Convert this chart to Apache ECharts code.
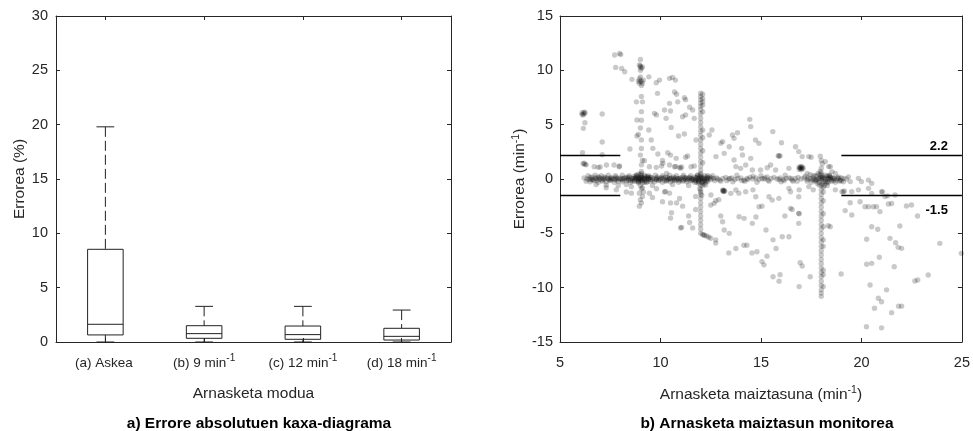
<!DOCTYPE html>
<html>
<head>
<meta charset="utf-8">
<script src="https://cdn.jsdelivr.net/npm/echarts@6/dist/echarts.min.js"></script>
<style>html,body{margin:0;padding:0;background:#fff}#c{width:973px;height:431px}</style>
</head>
<body>
<div id="c"></div>
<script>
// ---------- Data: box plot (a) ----------
var categories = ['(a) Askea', '(b) 9 min', '(c) 12 min', '(d) 18 min'];
var catSup = [' ', '-1', '-1', '-1'];
var lowWhisker = [0, 0, 0, 0];
var q1 = [0.65, 0.34, 0.25, 0.18];
var median = [1.63, 0.77, 0.68, 0.52];
var q3 = [8.53, 1.5, 1.47, 1.26];
var highWhisker = [19.8, 3.28, 3.28, 2.94];

// ---------- Data: scatter (b) ----------
var limitUpper = 2.2;
var limitLower = -1.5;
var bandRow1 = [[6.2,0.1],[6.35,0.0],[6.5,0.15],[6.65,-0.05],[6.8,0.05],[6.95,0.15],[7.1,-0.1],[7.25,0.1],[7.4,0.0],[7.55,0.15],[7.7,-0.05],[7.85,0.05],[8.0,0.1],[8.15,-0.1],[8.3,0.05],[8.45,0.15],[8.6,0.0],[8.75,0.1],[8.9,-0.05],[9.05,0.1],[9.2,0.0],[9.35,0.15],[9.5,-0.05],[9.65,0.05],[9.8,0.1],[9.95,-0.1],[10.1,0.05],[10.25,0.15],[10.4,0.0],[10.55,0.1],[10.7,-0.05],[10.85,0.05],[11.0,0.1],[11.15,-0.1],[11.3,0.05],[11.45,0.15],[11.6,0.0],[11.75,0.1],[11.9,-0.05],[12.05,0.1],[12.2,0.0],[12.35,0.1],[12.5,-0.05],[12.65,0.05],[12.8,0.1],[12.95,-0.1],[13.1,0.05],[13.25,0.15],[13.4,0.0],[13.55,0.1],[13.7,-0.05],[13.85,0.05],[14.0,0.1],[14.15,-0.1],[14.3,0.05],[14.45,0.15],[14.6,0.0],[14.75,0.1],[14.9,-0.05],[15.05,0.05],[15.2,0.1],[15.35,-0.1],[15.5,0.05],[15.65,0.15],[15.8,0.0],[15.95,0.1],[16.1,-0.05],[16.25,0.05],[16.4,0.1],[16.55,-0.1],[16.7,0.05],[16.85,0.15],[17.0,0.0],[17.15,0.1],[17.3,-0.05],[17.45,0.05],[17.6,0.1],[17.75,-0.1],[17.9,0.05],[18.05,0.15],[18.2,0.0],[18.35,0.1],[18.5,-0.05],[18.65,0.05],[18.8,0.1],[18.95,-0.1],[19.1,0.05],[19.25,0.0]];
var bandRow2 = [[6.3,-0.2],[6.5,-0.25],[6.7,-0.15],[6.9,-0.3],[7.1,-0.2],[7.3,-0.25],[7.5,-0.15],[7.7,-0.3],[7.9,-0.2],[8.1,-0.25],[8.3,-0.15],[8.5,-0.3],[8.7,-0.2],[8.9,-0.25],[9.1,-0.15],[9.3,-0.3],[9.5,-0.2],[9.7,-0.25],[9.9,-0.15],[10.1,-0.3],[10.3,-0.2],[10.5,-0.25],[10.7,-0.15],[10.9,-0.3],[11.1,-0.2],[11.3,-0.25],[11.5,-0.15],[11.7,-0.3],[11.9,-0.2],[12.1,-0.25],[12.3,-0.15],[13.0,-0.2],[13.6,-0.25],[14.2,-0.2],[14.8,-0.3],[15.4,-0.2],[16.0,-0.25],[16.6,-0.2],[17.3,-0.2],[17.5,-0.3],[17.7,-0.2],[18.3,-0.25],[18.5,-0.2],[18.7,-0.3],[18.9,-0.2],[19.1,-0.25]];
var bandRow3 = [[6.4,0.3],[6.75,0.35],[7.05,0.3],[7.4,0.35],[7.75,0.3],[8.1,0.35],[8.45,0.3],[8.8,0.35],[9.4,0.3],[9.75,0.35],[10.1,0.3],[10.45,0.35],[10.8,0.3],[11.15,0.35],[11.5,0.3],[11.85,0.35],[12.6,0.3],[13.8,0.35],[15.0,0.3],[16.2,0.35],[17.7,0.3],[18.4,0.35],[6.8,-0.5],[7.3,-0.55],[7.9,-0.6],[8.3,-0.5],[8.55,-0.7],[9.6,-0.6],[10.6,-0.5],[11.4,-0.6]];
var bandRow4 = [[6.45,-0.05],[6.6,0.2],[6.85,-0.1],[7.0,0.05],[7.2,0.2],[7.45,-0.1],[7.6,0.05],[7.8,0.2],[8.05,-0.05],[8.25,0.15],[8.4,-0.1],[8.55,0.1],[8.7,0.25],[9.45,0.1],[9.6,-0.1],[9.85,0.2],[10.0,0.0],[10.2,-0.15],[10.35,0.15],[10.5,0.0],[10.65,0.2],[10.8,-0.1],[10.95,0.05],[11.1,0.2],[11.25,-0.05],[11.4,0.1],[11.55,-0.15],[11.7,0.2],[12.45,0.2],[12.7,-0.15],[13.3,-0.15],[14.05,-0.15],[14.6,0.25],[15.3,0.2],[16.15,-0.15],[16.8,-0.2],[17.2,0.25],[17.55,-0.1],[18.45,0.15],[18.6,-0.15],[18.85,0.05],[19.0,-0.15]];
var bandRow5 = [[6.55,0.0],[6.75,0.1],[6.95,-0.05],[7.15,0.05],[7.35,0.1],[7.55,-0.05],[7.75,0.05],[7.95,0.0],[8.2,0.05],[8.35,0.2],[8.5,-0.1],[8.65,0.05],[9.4,-0.05],[9.55,0.15],[9.75,-0.05],[9.9,0.05],[10.15,0.1],[10.3,-0.05],[10.45,0.05],[10.6,-0.1],[10.75,0.1],[10.9,0.0],[11.05,-0.05],[11.2,0.1],[11.35,-0.1],[11.5,0.05],[11.65,-0.05],[12.55,0.1],[12.85,0.0],[13.45,0.05],[14.35,-0.05],[15.15,0.0],[15.9,-0.05],[16.5,0.05],[17.35,0.1],[17.65,-0.05],[18.55,0.1],[18.75,-0.1]];
var bandRow6 = [[6.6,-0.1],[6.9,0.2],[7.2,-0.05],[7.5,0.05],[7.8,-0.1],[8.1,0.05],[8.4,0.0],[8.6,-0.2],[9.5,0.2],[9.8,-0.05],[10.05,0.15],[10.35,-0.1],[10.65,0.05],[10.95,-0.15],[11.25,0.15],[11.55,0.0],[11.75,-0.15]];
var blobs = [[8.8,0],[8.9,0.1],[9.0,0],[9.0,0.2],[9.1,-0.1],[9.2,0.1],[8.95,-0.15],[9.05,0.3],[9.15,0.05],[8.85,0.2],[9.3,0],[9.0,-0.1],[9.1,0.15],[8.95,0.05],[8.75,0.1],[9.25,-0.15],[9.35,0.2],[8.85,-0.2],[9.0,0.4],[9.2,0.35],[8.7,-0.1],[8.8,0.3],[9.35,-0.25],[9.4,0.05],[9.25,0.25],[8.9,-0.35],[9.1,-0.35],[9.05,0.5],[8.9,0.45],[9.2,-0.3],
  [11.85,0],[11.95,0.1],[12.0,-0.1],[12.05,0.2],[12.1,0],[12.2,-0.15],[12.0,0.05],[11.9,-0.2],[12.15,0.1],[12.25,-0.3],[12.3,0],[12.05,-0.35],[11.95,0.25],[12.1,-0.2],[11.8,0.15],[12.35,-0.2],[12.2,0.3],[11.9,-0.4],[12.15,-0.45],[12.3,0.2],[11.75,-0.1],[12.4,0.05],[12.0,0.4],[12.1,-0.6],[11.85,0.35],[12.25,-0.55],[12.35,0.3],[11.8,-0.3],
  [17.85,0],[17.95,0.2],[18.0,-0.1],[18.05,0.3],[18.1,0],[18.2,-0.2],[18.0,0.1],[17.9,-0.3],[18.15,0.15],[18.25,-0.4],[18.3,0],[18.05,-0.45],[17.95,0.4],[18.1,-0.25],[17.8,0.3],[18.35,-0.3],[18.2,0.35],[17.9,-0.55],[18.15,-0.6],[18.3,0.25],[17.75,-0.1],[18.4,0.0],[18.0,0.55],[18.1,-0.75],[17.85,0.5],[18.3,-0.6],[18.4,0.3],[17.8,-0.4],
  [9.0,10.4],[9.05,10.2],[8.95,10.5],[9.0,10.0],[9.1,10.3],[9.0,10.3],
  [8.95,9.2],[9.05,9.0],[9.1,8.8],[9.0,9.4],[8.9,9.0],[9.15,9.1],[9.05,8.6],[8.95,8.8],[9.0,9.0],
  [6.1,6.1],[6.2,6.0],[6.15,5.9],[6.25,6.1],[6.1,5.95],[6.2,6.15],
  [6.15,1.4],[6.25,1.35],[6.2,1.45],[6.3,1.3],
  [16.9,1.1],[17.0,1.0],[17.05,0.95],[16.95,1.05],[17.0,1.15],[16.9,0.9],[17.1,1.0],[17.0,0.85],[16.95,1.0],[17.05,1.1],
  [13.1,-1.1],[13.15,-1.05],[13.2,-1.1],[13.15,-1.15],[13.1,-1.0],[13.15,-1.1],
  [12.0,-5.0],[12.1,-5.1],[12.2,-5.2],[12.3,-5.25],[12.4,-5.35],[12.5,-5.45],[12.15,-5.15],
  [10.94,1.07],[11.0,1.0],[11.05,1.1],[10.75,1.15]];
var col9 = [[9.0,11.0],[9.05,7.6],[9.1,7.1],[9.05,6.2],[9.05,5.4],[9.0,4.7],[8.9,4.1],[9.05,3.6],[9.05,2.8],[9.0,2.2],[9.1,1.7],[9.05,1.3],[9.05,0.7],
  [9.0,-0.6],[9.05,-0.9],[8.95,-1.3],[9.1,-1.6],[9.0,-1.9],[9.05,-2.2],[8.95,-2.5],[9.1,-0.8],[9.15,-1.2]];
var col12 = [[12.0,7.9],[12.0,7.6],[12.0,7.3],[12.0,7.0],[12.0,6.7],[12.0,6.4],[12.0,6.0],[12.0,5.6],[12.0,5.2],[12.0,4.8],[12.0,4.4],[12.0,4.0],[12.0,3.6],[12.0,3.2],[12.0,2.8],[12.0,2.4],[12.0,2.0],[12.0,1.6],[12.0,1.2],[12.0,0.8],[12.0,0.5],
  [12.1,7.8],[12.1,7.4],[12.1,7.1],[12.1,6.8],[12.1,6.2],[12.1,4.5],[12.1,3.8],[12.1,2.6],[12.1,1.5],
  [12.0,-0.6],[12.0,-1.0],[12.0,-1.4],[12.0,-1.8],[12.0,-2.2],[12.0,-2.6],[12.0,-3.0],[12.0,-3.4],[12.0,-3.8],[12.0,-4.2],[12.0,-4.6],
  [12.0,-1.2],[12.05,-1.5],[11.95,-0.9]];
var col18 = [[17.95,2.1],[18.0,1.7],[18.05,1.4],[18.0,1.0],[17.95,0.7],
  [18.0,-0.6],[18.0,-1.0],[18.0,-1.4],[18.0,-1.8],[18.0,-2.2],[18.0,-2.6],[18.0,-3.0],[18.0,-3.4],[18.0,-3.8],[18.0,-4.2],[18.0,-4.6],[18.0,-5.0],[18.0,-5.4],[18.0,-5.8],[18.0,-6.2],[18.0,-6.6],[18.0,-7.0],[18.0,-7.4],[18.0,-7.8],[18.0,-8.2],[18.0,-8.6],[18.0,-9.0],[18.0,-9.4],[18.0,-9.8],[18.0,-10.2],[18.0,-10.5],[18.0,-10.8],
  [18.1,-1.2],[18.1,-2.0],[18.1,-3.2],[18.1,-4.4],[18.1,-5.6],[18.1,-6.2],[18.1,-8.4],[18.1,-8.8],[18.1,-9.9]];
var pointsUpperLeft = [[7.72,11.41],[7.97,11.56],[8.02,11.45],[7.77,10.27],[8.07,10.18],[8.22,9.87],
  [8.58,9.17],[9.42,9.4],[9.79,8.86],[9.95,9.1],[10.45,9.26],[10.6,9.35],[10.74,9.1],[10.7,8.0],[10.8,7.8],[11.19,7.48],[11.25,7.3],[10.45,6.96],[10.86,7.1],[9.85,7.88],
  [8.8,7.1],[9.7,6.04],[9.8,5.9],[10.2,6.35],[10.5,6.26],[10.28,5.58],[10.53,4.75],[9.42,4.51],[8.83,3.96],[8.83,5.43],[8.48,2.76],[9.54,3.59],[9.62,2.82],[9.87,2.3],[10.36,2.42],[10.9,3.96],[11.19,4.14],[11.1,5.73],[11.25,5.9],[11.68,5.58],[11.6,6.35],[11.45,6.6],[11.77,3.59],[11.35,2.12],[11.25,2.0],
  [6.24,5.18],[6.16,4.66],[7.1,5.98],[7.1,3.4],[6.12,2.42],[7.1,2.24],
  [6.7,1.13],[6.9,1.07],[7.0,1.1],[7.31,1.29],[7.69,1.29],[7.94,1.13],[7.96,1.2],
  [9.2,1.69],[9.45,1.13],[9.79,1.07],[10.12,1.44],[10.05,1.2],[10.45,1.29],[10.7,1.13],[11.52,1.13],[11.68,1.2],[10.78,1.9],[10.1,1.7],[10.5,2.2],[10.3,0.5]];
var pointsMiddle = [[14.44,5.49],[14.49,4.82],[13.58,4.05],[13.83,4.26],[13.66,3.74],[12.56,4.51],[12.43,4.05],[13.09,3.44],[13.0,3.3],[13.42,2.97],[14.04,2.82],[14.73,3.59],[14.9,3.28],[15.59,4.36],[16.02,3.34],[12.76,2.06],[13.17,2.36],[14.49,1.9],[13.66,1.75],[14.08,2.21],[13.75,1.14],[13.99,0.98],[14.24,1.29],[14.57,0.83],[14.98,0.83],[15.31,1.04],[15.48,1.29],[15.86,2.15],[15.9,2.1],[15.95,2.15],[15.73,0.83],[16.72,2.97],[16.88,2.52],[16.39,0.98],[17.05,2.06],[17.38,2.06],[17.5,2.0],[18.45,1.14],[18.61,0.06],[17.3,0.5],[17.45,0.4],[17.6,0.3],
  [12.51,-1.47],[12.67,-2.24],[12.5,-2.4],[12.75,-2.0],[13.5,-1.32],[13.75,-1.01],[13.9,-1.3],[14.24,-1.17],[14.74,-1.63],[14.6,-1.0],[15.4,-1.63],[15.56,-1.94],[15.89,-1.78],[16.39,-0.86],[16.47,-1.17],[16.88,-1.63],[16.9,-1.0],[17.38,-0.7],[17.6,-1.0],[14.9,-2.55],[16.47,-2.7],[16.88,-3.16],[16.19,-3.4],[13.91,-3.47],[14.16,-3.62],[13.0,-3.4],[13.09,-3.93],[13.17,-4.69],[13.42,-5.0],[14.57,-4.08],[16.06,-5.31],[16.39,-5.31],[16.88,-4.08]];
var pointsLower = [[10.5,-3.6],[10.55,-3.1],[11.1,-2.5],[11.75,-2.8],[11.6,-4.5],[11.0,-4.5],[11.05,-4.45],[11.4,-3.4],[11.45,-4.0],[10.8,-2.2],[11.75,-1.6],[10.95,-1.8],[10.45,-1.3],[10.2,-1.2],[10.25,-1.15],[9.8,-0.9],[9.45,-1.3],[9.6,-1.7],[10.1,-2.1],[10.5,-2.2],[7.8,-1.0],[7.3,-0.8],[8.3,-1.2],[8.55,-1.3],[12.9,-1.9],[12.75,-5.6],[12.75,-5.9],[13.4,-6.8],[13.75,-6.4],[14.15,-6.1],[14.3,-6.1],[14.75,-3.5],[15.05,-2.5],[15.25,-4.7],[15.6,-5.6],[15.75,-6.4],[15.05,-7.6],[15.15,-7.9],[15.6,-9.0],[15.95,-8.8],[15.9,-9.4],[14.55,-6.8],[14.8,-6.7],[15.3,-7.1],[16.9,-3.2],[16.95,-7.7],[17.05,-8.0],[16.9,-9.9],[17.45,-9.0],[18.35,-4.3],[16.55,-2.8]];
var pointsRight = [[18.2,1.6],[18.37,1.14],[18.53,0.68],[18.7,0.5],[18.45,0.2],[18.86,0.2],[19.0,0.1],[19.35,0.2],[19.44,-0.24],[19.85,0.06],[20.0,-0.24],[20.35,-0.1],[20.51,-0.4],
  [18.7,-1.0],[19.03,-1.16],[19.1,-1.2],[19.15,-1.1],[19.52,-1.16],[19.85,-1.0],[20.35,-0.86],[20.51,-1.32],[21.0,-1.16],[21.05,-1.2],[21.17,-1.62],[21.3,-1.55],[21.67,-1.47],
  [19.44,-2.18],[19.19,-2.91],[19.52,-3.31],[19.93,-2.09],[20.18,-2.55],[20.35,-2.55],[20.59,-2.55],[20.75,-2.55],[20.92,-3.0],[21.34,-2.3],[21.5,-2.25],[22.24,-2.48],[22.49,-2.39],[22.79,-3.4],
  [18.45,-4.39],[20.51,-4.39],[20.81,-4.63],[21.91,-4.32],[20.26,-5.55],[21.42,-5.46],[21.7,-5.86],[21.83,-6.29],[22.0,-6.38],[23.9,-5.92],[24.97,-6.84],[20.89,-7.2],[20.26,-7.85],[20.51,-7.76],[21.63,-8.07],[18.99,-8.74],[23.32,-8.83],[22.66,-9.39],[22.8,-9.3],[20.43,-9.75],[21.25,-10.2],[20.84,-10.98],
  [20.65,-11.9],[21.0,-11.3],[21.5,-12.3],[21.85,-11.7],[22.0,-11.7],[20.25,-13.6],[21.0,-13.7]];

var scatterData = [].concat(bandRow1, bandRow2, bandRow3, bandRow4, bandRow5, bandRow6, blobs, col9, col12, col18, pointsUpperLeft, pointsMiddle, pointsLower, pointsRight);

var boxData = categories.map(function (c, i) {
  return [i, lowWhisker[i], q1[i], median[i], q3[i], highWhisker[i]];
});

var FONT = 'Liberation Sans, Arial, sans-serif';
var TXT = '#262626';
var AX = '#262626';

function lineAxis() {
  return { show: true, onZero: false, lineStyle: { color: AX, width: 1 } };
}
var tickIn = { show: true, inside: true, length: 4, lineStyle: { color: AX } };
function supRich(fs, sfs) {
  return { n: { fontSize: fs, color: TXT, fontFamily: FONT, verticalAlign: 'bottom' },
           s: { fontSize: sfs, color: TXT, fontFamily: FONT, verticalAlign: 'bottom', padding: [0, 0, 7, 0] } };
}

var chart = echarts.init(document.getElementById('c'), null, { renderer: 'canvas' });

chart.setOption({
  animation: false,
  backgroundColor: '#fff',
  textStyle: { fontFamily: FONT },
  title: [
    { text: 'a) Errore absolutuen kaxa-diagrama', left: 254, top: 411, textAlign: 'center',
      textStyle: { fontFamily: FONT, fontSize: 15.5, fontWeight: 'bold', color: '#000' } },
    { text: 'b) Arnasketa maiztasun monitorea', left: 762, top: 411, textAlign: 'center',
      textStyle: { fontFamily: FONT, fontSize: 15.5, fontWeight: 'bold', color: '#000' } }
  ],
  grid: [
    { left: 56, right: 522, top: 16, bottom: 89 },
    { left: 560, right: 9, top: 16, bottom: 89 }
  ],
  xAxis: [
    { gridIndex: 0, type: 'category', data: categories, position: 'bottom',
      axisLine: lineAxis(), axisTick: { show: true, inside: true, length: 4, alignWithLabel: true, lineStyle: { color: AX } },
      axisLabel: { interval: 0, margin: 11, color: TXT, fontFamily: FONT, fontSize: 13.5,
        formatter: function (v, i) { return '{n|' + v + '}{s|' + catSup[i] + '}'; },
        rich: supRich(13.5, 10) },
      name: 'Arnasketa modua', nameLocation: 'middle', nameGap: 44,
      nameTextStyle: { fontSize: 15.5, color: TXT, fontFamily: FONT }, splitLine: { show: false } },
    { gridIndex: 0, type: 'category', data: categories, position: 'top',
      axisLine: lineAxis(), axisTick: { show: true, inside: true, length: 4, alignWithLabel: true, lineStyle: { color: AX } },
      axisLabel: { show: false }, splitLine: { show: false } },
    { gridIndex: 1, type: 'value', min: 5, max: 25, interval: 5, position: 'bottom',
      axisLine: lineAxis(), axisTick: tickIn,
      axisLabel: { margin: 13, color: TXT, fontFamily: FONT, fontSize: 14.5 },
      name: '{n|Arnasketa maiztasuna (min}{s|-1}{n|)}', nameLocation: 'middle', nameGap: 43,
      nameTextStyle: { fontSize: 15.5, color: TXT, fontFamily: FONT, rich: supRich(15.5, 10.5) },
      splitLine: { show: false } },
    { gridIndex: 1, type: 'value', min: 5, max: 25, interval: 5, position: 'top',
      axisLine: lineAxis(), axisTick: tickIn, axisLabel: { show: false }, splitLine: { show: false } }
  ],
  yAxis: [
    { gridIndex: 0, type: 'value', min: 0, max: 30, interval: 5, position: 'left',
      axisLine: lineAxis(), axisTick: tickIn,
      axisLabel: { margin: 8, color: TXT, fontFamily: FONT, fontSize: 14.5 },
      name: 'Errorea (%)', nameLocation: 'middle', nameGap: 28, nameRotate: 90,
      nameTextStyle: { fontSize: 15.5, color: TXT, fontFamily: FONT }, splitLine: { show: false } },
    { gridIndex: 0, type: 'value', min: 0, max: 30, interval: 5, position: 'right',
      axisLine: lineAxis(), axisTick: tickIn, axisLabel: { show: false }, splitLine: { show: false } },
    { gridIndex: 1, type: 'value', min: -15, max: 15, interval: 5, position: 'left',
      axisLine: lineAxis(), axisTick: tickIn,
      axisLabel: { margin: 7, color: TXT, fontFamily: FONT, fontSize: 14.5 },
      name: '{n|Errorea (min}{s|-1}{n|)}', nameLocation: 'middle', nameGap: 30, nameRotate: 90,
      nameTextStyle: { fontSize: 15.5, color: TXT, fontFamily: FONT, rich: supRich(15.5, 10.5) },
      splitLine: { show: false } },
    { gridIndex: 1, type: 'value', min: -15, max: 15, interval: 5, position: 'right',
      axisLine: lineAxis(), axisTick: tickIn, axisLabel: { show: false }, splitLine: { show: false } }
  ],
  series: [
    {
      type: 'custom', xAxisIndex: 0, yAxisIndex: 0, silent: true,
      encode: { x: 0, y: [1, 2, 3, 4, 5] },
      data: boxData,
      renderItem: function (params, api) {
        var xi = api.value(0);
        var pLo = api.coord([xi, api.value(1)]);
        var pQ1 = api.coord([xi, api.value(2)]);
        var pMed = api.coord([xi, api.value(3)]);
        var pQ3 = api.coord([xi, api.value(4)]);
        var pHi = api.coord([xi, api.value(5)]);
        var bw = api.size([1, 0])[0] * 0.36;
        var cw = bw * 0.5;
        var cx = pQ1[0];
        var solid = { stroke: '#222', lineWidth: 1, fill: null };
        var dashed = { stroke: '#222', lineWidth: 1, lineDash: [10, 4] };
        return {
          type: 'group',
          children: [
            { type: 'line', shape: { x1: cx, y1: pHi[1], x2: cx, y2: pQ3[1] }, style: dashed },
            { type: 'line', shape: { x1: cx, y1: pQ1[1], x2: cx, y2: pLo[1] }, style: dashed },
            { type: 'line', shape: { x1: cx - cw / 2, y1: pHi[1], x2: cx + cw / 2, y2: pHi[1] }, style: solid },
            { type: 'line', shape: { x1: cx - cw / 2, y1: pLo[1], x2: cx + cw / 2, y2: pLo[1] }, style: solid },
            { type: 'rect', shape: { x: cx - bw / 2, y: pQ3[1], width: bw, height: pQ1[1] - pQ3[1] }, style: solid },
            { type: 'line', shape: { x1: cx - bw / 2, y1: pMed[1], x2: cx + bw / 2, y2: pMed[1] }, style: solid }
          ]
        };
      }
    },
    {
      type: 'custom', xAxisIndex: 2, yAxisIndex: 2, silent: true,
      encode: { x: 0, y: 1 },
      data: scatterData,
      renderItem: function (params, api) {
        var p = api.coord([api.value(0), api.value(1)]);
        return { type: 'circle', shape: { cx: p[0], cy: p[1], r: 2.7 },
                 style: { fill: 'rgba(0,0,0,0.21)', stroke: null } };
      }
    },
    {
      type: 'line', xAxisIndex: 2, yAxisIndex: 2, silent: true, data: [],
      markLine: {
        silent: true, symbol: ['none', 'none'], animation: false,
        lineStyle: { color: '#000', type: 'solid', width: 1.3 },
        label: { show: false },
        data: [
          [{ coord: [5, limitUpper] }, { coord: [8, limitUpper] }],
          [{ coord: [19, limitUpper], label: { show: true, formatter: String(limitUpper), position: 'insideEndTop', distance: 2,
              fontFamily: FONT, fontSize: 13, fontWeight: 'bold', color: '#000', padding: [0, 12, 0, 0] } },
           { coord: [25, limitUpper] }],
          [{ coord: [5, limitLower] }, { coord: [8, limitLower] }],
          [{ coord: [19, limitLower], label: { show: true, formatter: String(limitLower), position: 'insideEndBottom', distance: 2,
              fontFamily: FONT, fontSize: 13, fontWeight: 'bold', color: '#000', padding: [7, 12, 0, 0] } },
           { coord: [25, limitLower] }]
        ]
      }
    }
  ]
});
</script>
</body>
</html>
